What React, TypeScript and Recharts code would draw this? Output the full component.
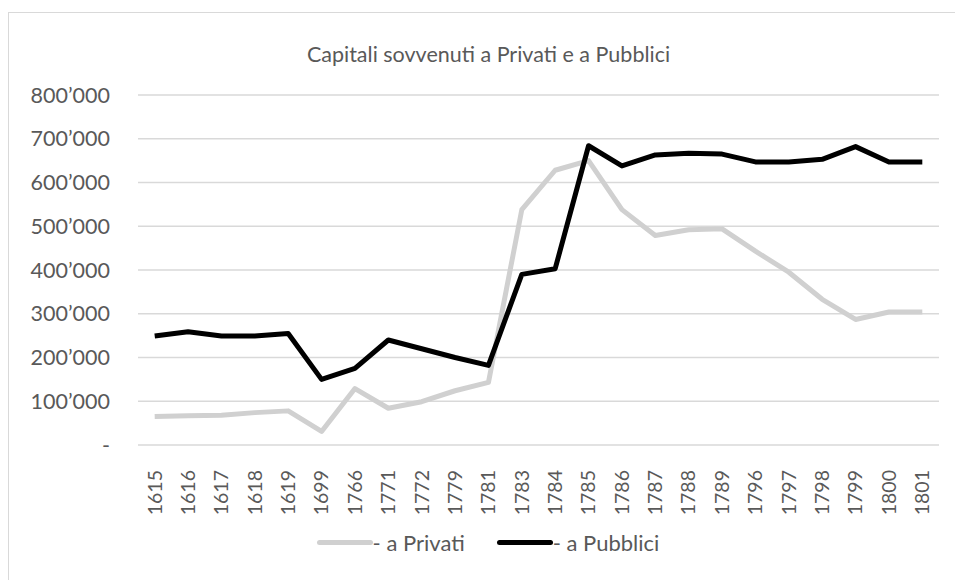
import React from "react";
import { LineChart, Line, XAxis, YAxis, CartesianGrid, Legend } from "recharts";

const years = ["1615","1616","1617","1618","1619","1699","1766","1771","1772","1779","1781","1783","1784","1785","1786","1787","1788","1789","1796","1797","1798","1799","1800","1801"];
const privati = [65000,67000,68000,74000,78000,31000,129000,84000,99000,124000,143000,538000,628000,650000,538000,479000,492000,494000,443000,395000,333000,287000,304000,304000];
const pubblici = [249000,259000,249000,249000,255000,150000,175000,240000,220000,200000,182000,390000,403000,684000,638000,663000,667000,665000,647000,647000,653000,682000,647000,647000];
const yTicks = [0,100000,200000,300000,400000,500000,600000,700000,800000];
const titleText = "Capitali sovvenuti a Privati e a Pubblici";
const seriesNames = ["- a Privati", "- a Pubblici"];

const data = years.map((y, i) => ({ year: y, privati: privati[i], pubblici: pubblici[i] }));

const FONT = "Lato, 'Noto Sans', sans-serif";
const TXT = "#595959";

const fmt = (v: number) => (v === 0 ? "-" : String(v / 1000) + "\u2019000");

const XTick = (props: any) => {
  const { x, y, payload } = props;
  return (
    <text
      x={x}
      y={y + 17}
      transform={`rotate(-90, ${x}, ${y + 17})`}
      textAnchor="end"
      dy="0.35em"
      fill={TXT}
      fontSize={19.5}
      fontFamily={FONT}
    >
      {payload.value}
    </text>
  );
};

const LegendContent = () => (
  <div style={{ display: "flex", justifyContent: "center", alignItems: "center", fontFamily: FONT, fontSize: 22, color: TXT, paddingLeft: 28 }}>
    <div style={{ display: "flex", alignItems: "center", marginRight: 32 }}>
      <div style={{ width: 56, height: 5, borderRadius: 3, background: "#d0d0d0" }} />
      <span>{seriesNames[0]}</span>
    </div>
    <div style={{ display: "flex", alignItems: "center" }}>
      <div style={{ width: 56, height: 5, borderRadius: 3, background: "#000" }} />
      <span>{seriesNames[1]}</span>
    </div>
  </div>
);

export default function App() {
  return (
    <div
      style={{
        position: "absolute",
        left: 8,
        top: 12,
        width: 947,
        height: 568,
        borderLeft: "1.5px solid #d9d9d9",
        borderTop: "1.5px solid #d9d9d9",
        boxSizing: "border-box",
        background: "#fff",
      }}
    >
      <div
        style={{
          position: "absolute",
          top: 28,
          left: 12,
          width: 935,
          textAlign: "center",
          fontFamily: FONT,
          fontSize: 21.5,
          color: TXT,
        }}
      >
        {titleText}
      </div>
      <LineChart width={945} height={566} data={data} margin={{ top: 82, right: 15, left: 0, bottom: 10 }}>
        <CartesianGrid vertical={false} stroke="#d9d9d9" strokeWidth={1.5} />
        <XAxis
          dataKey="year"
          axisLine={false}
          tickLine={false}
          interval={0}
          height={84}
          padding={{ left: 16.7, right: 16.7 }}
          tick={<XTick />}
        />
        <YAxis
          width={129}
          domain={[0, 800000]}
          ticks={yTicks}
          tickFormatter={fmt}
          axisLine={false}
          tickLine={false}
          tickSize={0}
          tickMargin={28}
          tick={{ fill: TXT, fontSize: 21.5, fontFamily: FONT }}
        />
        <Legend verticalAlign="bottom" height={40} content={<LegendContent />} />
        <Line
          dataKey="privati"
          name={seriesNames[0]}
          stroke="#d0d0d0"
          strokeWidth={5}
          dot={false}
          activeDot={false}
          isAnimationActive={false}
          strokeLinejoin="round"
        />
        <Line
          dataKey="pubblici"
          name={seriesNames[1]}
          stroke="#000000"
          strokeWidth={5}
          dot={false}
          activeDot={false}
          isAnimationActive={false}
          strokeLinejoin="round"
        />
      </LineChart>
    </div>
  );
}
